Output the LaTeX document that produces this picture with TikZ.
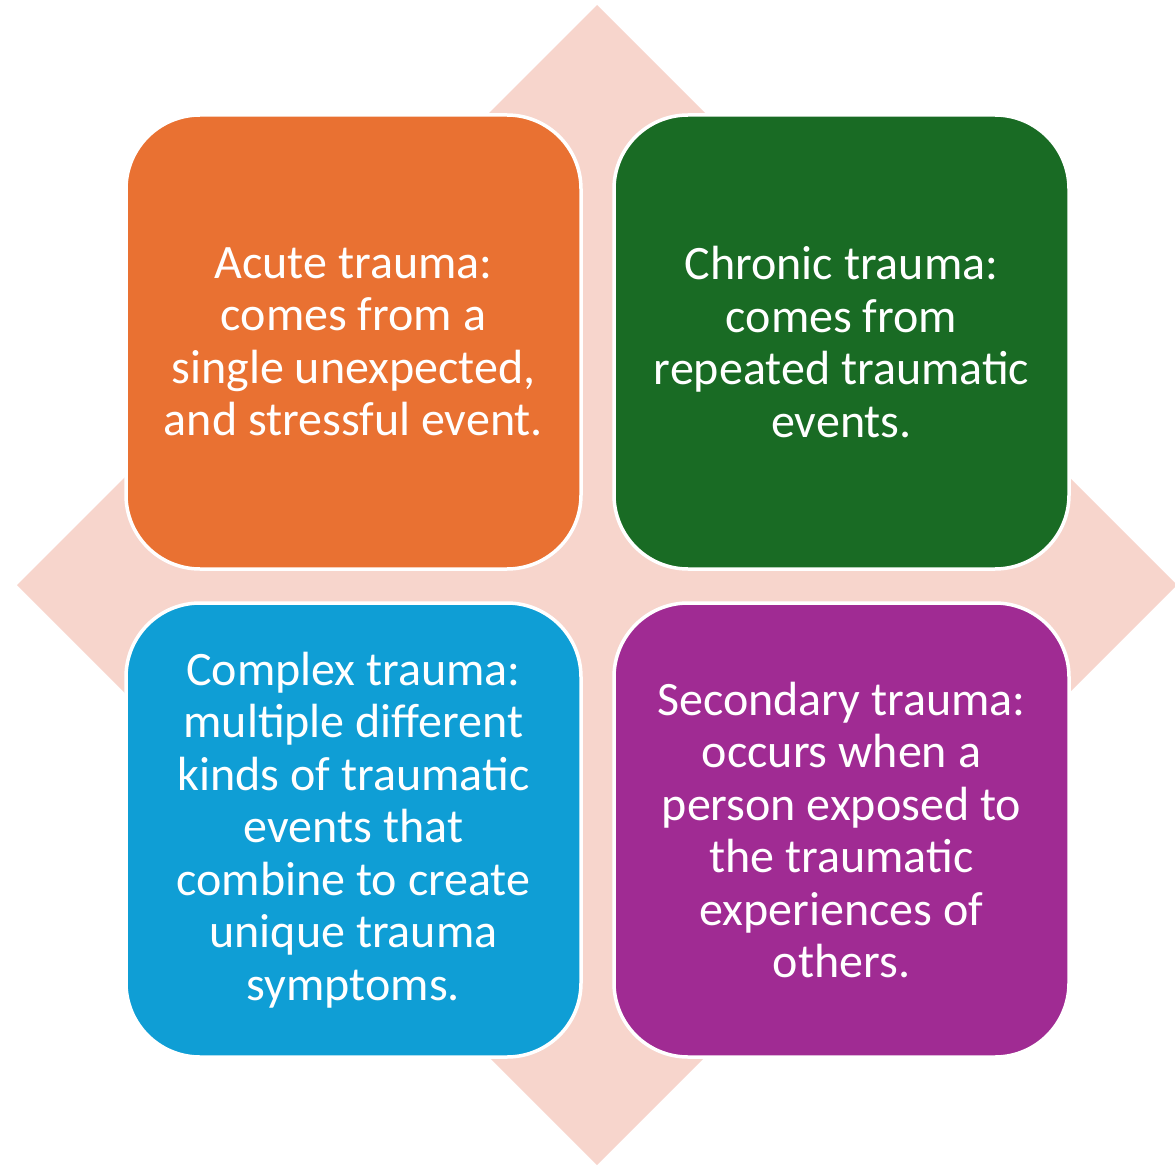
\documentclass[tikz,border=0pt]{standalone}
\usepackage{fontspec}
\setmainfont{Carlito}
\definecolor{diamondpink}{HTML}{F7D5CC}
\definecolor{acuteorange}{HTML}{E97132}
\definecolor{chronicgreen}{HTML}{196B24}
\definecolor{complexblue}{HTML}{0F9ED5}
\definecolor{secondarypurple}{HTML}{A02B93}
\begin{document}
\begin{tikzpicture}[x=1pt,y=-1pt,
  quadbox/.style={rectangle, rounded corners=74pt, draw=white, line width=3.5pt,
    minimum width=455pt, minimum height=454pt, inner sep=0pt,
    text=white, align=center, font=\fontsize{48}{52.5}\selectfont}]
\useasboundingbox (0,0) rectangle (1175,1166);
% background diamond
\fill[diamondpink] (597,5) -- (1177,585) -- (597,1165) -- (17,585) -- cycle;
% four quadrants
\node[quadbox, fill=acuteorange] (acute) at (353.5,342)
  {Acute trauma:\\comes from a\\single unexpected,\\and stressful event.};
\node[quadbox, fill=chronicgreen] (chronic) at (841.5,342)
  {Chronic trauma:\\comes from\\repeated traumatic\\events.};
\node[quadbox, fill=complexblue] (complex) at (353.5,830)
  {Complex trauma:\\multiple different\\kinds of traumatic\\events that\\combine to create\\unique trauma\\symptoms.};
\node[quadbox, fill=secondarypurple] (secondary) at (841.5,830)
  {Secondary trauma:\\occurs when a\\person exposed to\\the traumatic\\experiences of\\others.};
\end{tikzpicture}
\end{document}
